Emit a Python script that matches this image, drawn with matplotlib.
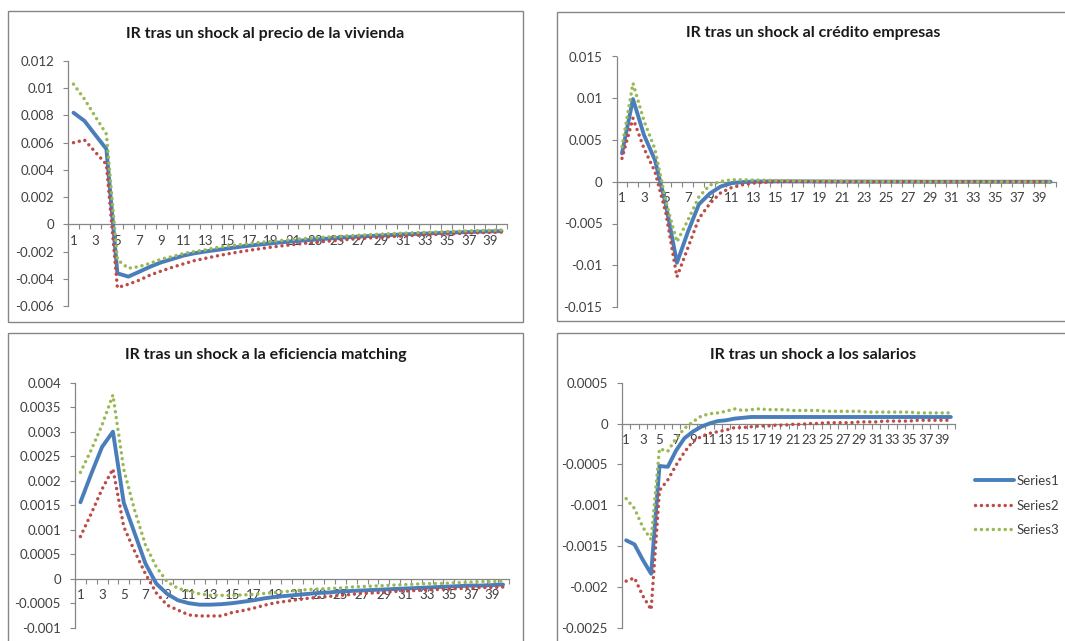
import matplotlib
matplotlib.use("Agg")
import matplotlib.pyplot as plt
from matplotlib.patches import Rectangle
from matplotlib.ticker import FuncFormatter, MultipleLocator
from matplotlib.lines import Line2D

plt.rcParams['font.family'] = ['Lato', 'DejaVu Sans']

periods = list(range(1, 41))
series_names = ['Series1', 'Series2', 'Series3']
colors = ['#4A7EBB', '#BE4B48', '#98B954']

# IR tras un shock al precio de la vivienda
viv_s1 = [0.0082, 0.0076, 0.00656, 0.00553, -0.0036, -0.00384, -0.00348, -0.00311, -0.00279, -0.00255,
          -0.0023, -0.00213, -0.002, -0.00189, -0.00178, -0.00167, -0.00157, -0.00148, -0.0014, -0.00132,
          -0.00125, -0.00118, -0.00112, -0.00106, -0.001, -0.00095, -0.0009, -0.00086, -0.00082, -0.00078,
          -0.00074, -0.00071, -0.00068, -0.00065, -0.00062, -0.00059, -0.00057, -0.00054, -0.00052, -0.0005]
viv_s2 = [0.006, 0.0062, 0.0053, 0.0044, -0.00465, -0.0044, -0.0041, -0.00372, -0.00343, -0.00316,
          -0.00291, -0.00267, -0.0025, -0.00233, -0.00218, -0.00204, -0.00191, -0.00179, -0.00168, -0.00158,
          -0.00149, -0.0014, -0.00132, -0.00125, -0.00118, -0.00111, -0.00105, -0.001, -0.00095, -0.0009,
          -0.00085, -0.00081, -0.00077, -0.00074, -0.0007, -0.00067, -0.00064, -0.00061, -0.00059, -0.00057]
viv_s3 = [0.0103, 0.0092, 0.0079, 0.00663, -0.0026, -0.00323, -0.0031, -0.00286, -0.00255, -0.00237,
          -0.00215, -0.002, -0.00188, -0.00171, -0.0016, -0.0015, -0.00141, -0.00133, -0.00125, -0.00118,
          -0.00111, -0.00105, -0.00099, -0.00094, -0.00089, -0.00084, -0.0008, -0.00076, -0.00072, -0.00068,
          -0.00065, -0.00062, -0.00059, -0.00056, -0.00053, -0.00051, -0.00048, -0.00046, -0.00044, -0.00042]

# IR tras un shock al crédito empresas
cre_s1 = [0.0034, 0.0099, 0.0056, 0.0026, -0.0028, -0.0097, -0.006, -0.0027, -0.0014, -0.00056,
          -0.00016, -0.00004, 0.00002, 0.00004, 0.00005, 0.00005, 0.00004, 0.00004, 0.00003, 0.00003,
          0.00002, 0.00002, 0.00002, 0.00001, 0.00001, 0.00001, 0.00001, 0.00001, 0.0, 0.0,
          0.0, 0.0, 0.0, 0.0, 0.0, 0.0, 0.0, 0.0, 0.0, 0.0]
cre_s2 = [0.0028, 0.0076, 0.004, 0.0012, -0.0038, -0.0114, -0.0079, -0.0044, -0.0026, -0.0013,
          -0.00068, -0.00036, -0.00016, -0.00006, 0.0, 0.00002, 0.00002, 0.00002, 0.00001, 0.00001,
          0.0, 0.0, 0.0, 0.0, 0.0, 0.0, 0.0, 0.0, 0.0, 0.0,
          0.0, 0.0, 0.0, 0.0, 0.0, 0.0, 0.0, 0.0, 0.0, 0.0]
cre_s3 = [0.0042, 0.0118, 0.0073, 0.0039, -0.0024, -0.0072, -0.0046, -0.0018, -0.0004, 0.00004,
          0.00024, 0.00024, 0.0002, 0.00018, 0.00015, 0.00013, 0.00011, 0.00009, 0.00008, 0.00007,
          0.00006, 0.00005, 0.00004, 0.00004, 0.00003, 0.00003, 0.00002, 0.00002, 0.00002, 0.00001,
          0.00001, 0.00001, 0.00001, 0.0, 0.0, 0.0, 0.0, 0.0, 0.0, 0.0]

# IR tras un shock a la eficiencia matching
mat_s1 = [0.00156, 0.00214, 0.00269, 0.003, 0.00155, 0.00093, 0.00031, -0.0001, -0.00031, -0.00044,
          -0.0005, -0.00053, -0.00053, -0.00052, -0.0005, -0.00047, -0.00044, -0.0004, -0.00037, -0.00035,
          -0.00033, -0.00031, -0.00029, -0.00028, -0.00026, -0.00025, -0.00024, -0.00023, -0.00022, -0.00021,
          -0.0002, -0.00019, -0.00018, -0.00017, -0.00016, -0.00015, -0.00014, -0.00014, -0.00013, -0.00012]
mat_s2 = [0.00086, 0.00133, 0.00183, 0.00224, 0.00106, 0.00056, 0.0001, -0.00029, -0.00054, -0.00064,
          -0.00074, -0.00076, -0.00076, -0.00076, -0.00069, -0.00065, -0.0006, -0.00054, -0.00049, -0.00046,
          -0.00043, -0.0004, -0.00038, -0.00036, -0.00034, -0.00032, -0.0003, -0.00029, -0.00028, -0.00026,
          -0.00025, -0.00024, -0.00023, -0.00022, -0.00021, -0.0002, -0.00019, -0.00018, -0.00018, -0.00017]
mat_s3 = [0.00217, 0.00263, 0.00314, 0.00375, 0.00223, 0.0014, 0.00069, 0.00024, -0.00006, -0.0002,
          -0.00025, -0.00031, -0.00034, -0.00034, -0.00034, -0.00033, -0.00032, -0.0003, -0.00028, -0.00026,
          -0.00024, -0.00022, -0.00021, -0.0002, -0.00019, -0.00017, -0.00016, -0.00015, -0.00014, -0.00013,
          -0.00012, -0.00011, -0.0001, -0.0001, -0.00009, -0.00008, -0.00007, -0.00006, -0.00006, -0.00005]

# IR tras un shock a los salarios
sal_s1 = [-0.00143, -0.00148, -0.00167, -0.00184, -0.00052, -0.00053, -0.00033, -0.00018, -0.0001, -0.00004,
          0.0, 0.00003, 0.00004, 0.00006, 0.00007, 0.00008, 0.00008, 0.00008, 0.00008, 0.00008,
          0.00008, 0.00008, 0.00008, 0.00008, 0.00008, 0.00008, 0.00008, 0.00008, 0.00008, 0.00008,
          0.00008, 0.00008, 0.00008, 0.00008, 0.00008, 0.00008, 0.00008, 0.00008, 0.00008, 0.00008]
sal_s2 = [-0.00193, -0.00189, -0.00211, -0.00228, -0.00082, -0.00069, -0.00051, -0.00035, -0.00022, -0.00016,
          -0.00012, -0.0001, -0.00008, -0.00005, -0.00005, -0.00004, -0.00003, -0.00003, -0.00002, -0.00002,
          -0.00001, -0.00001, 0.0, 0.0, 0.00001, 0.00001, 0.00001, 0.00001, 0.00002, 0.00002,
          0.00002, 0.00003, 0.00003, 0.00003, 0.00003, 0.00004, 0.00004, 0.00004, 0.00004, 0.00004]
sal_s3 = [-0.00092, -0.00104, -0.00127, -0.00142, -0.00031, -0.00034, -0.00018, -0.00006, 0.00002, 0.00009,
          0.00012, 0.00013, 0.00015, 0.00018, 0.00016, 0.00017, 0.00018, 0.00017, 0.00017, 0.00017,
          0.00016, 0.00016, 0.00016, 0.00016, 0.00015, 0.00015, 0.00015, 0.00015, 0.00015, 0.00014,
          0.00014, 0.00014, 0.00014, 0.00014, 0.00014, 0.00013, 0.00013, 0.00013, 0.00013, 0.00013]

W, H = 1065, 641
fig = plt.figure(figsize=(W / 100, H / 100), dpi=100)
fig.patch.set_facecolor('white')

axis_gray = '#868686'
text_gray = '#404040'
dot_style = (0, (0.01, 1.7))


def px_axes(l, r, t, b):
    return fig.add_axes([l / W, 1 - b / H, (r - l) / W, (b - t) / H])


def frame(l, r, t, b):
    fig.patches.append(Rectangle((l / W, 1 - b / H), (r - l) / W, (b - t) / H,
                                 transform=fig.transFigure, fill=False,
                                 edgecolor=axis_gray, linewidth=1.0))


def panel(box, title, title_xy, data, ylim, ystep):
    ax = px_axes(*box)
    for vals, c, name in zip(data, colors, series_names):
        if name == 'Series1':
            ax.plot(periods, vals, color=c, lw=2.8, solid_joinstyle='round',
                    solid_capstyle='round', zorder=3)
        else:
            ax.plot(periods, vals, color=c, lw=2.5, linestyle=dot_style,
                    dash_capstyle='round', zorder=3)
    ax.set_xlim(0.5, 40.5)
    ax.set_ylim(*ylim)
    ax.set_facecolor('none')
    for s in ['top', 'right']:
        ax.spines[s].set_visible(False)
    ax.spines['bottom'].set_position(('data', 0))
    for s in ['left', 'bottom']:
        ax.spines[s].set_color(axis_gray)
        ax.spines[s].set_linewidth(0.9)
    ax.set_xticks(periods[::2])
    ax.set_xticks([p - 0.5 for p in periods] + [40.5], minor=True)
    ax.tick_params(axis='x', which='major', length=0, pad=7.5, labelsize=9.5, labelcolor=text_gray)
    ax.tick_params(axis='x', which='minor', length=3.6, direction='out', color=axis_gray, width=0.8)
    ax.yaxis.set_major_locator(MultipleLocator(ystep))
    ax.yaxis.set_major_formatter(FuncFormatter(lambda v, p: '0' if abs(v) < 1e-12 else '%g' % v))
    ax.tick_params(axis='y', length=3.6, direction='out', color=axis_gray, width=0.8,
                   pad=6.5, labelsize=9.5, labelcolor=text_gray)
    fig.text(title_xy[0] / W, 1 - title_xy[1] / H, title, ha='center', va='center',
             fontsize=11.5, fontweight='bold', color='#1a1a1a')
    return ax


frame(8, 523, 11, 322)
frame(556.5, 1075, 11.5, 321)
frame(8, 523, 332.5, 650)
frame(556.5, 1075, 332.5, 650)

panel((68, 507, 61, 306), 'IR tras un shock al precio de la vivienda', (265.5, 34),
      [viv_s1, viv_s2, viv_s3], (-0.006, 0.012), 0.002)
panel((616.5, 1056, 56.5, 307), 'IR tras un shock al crédito empresas', (813, 33),
      [cre_s1, cre_s2, cre_s3], (-0.015, 0.015), 0.005)
panel((75, 508.5, 382.7, 627.7), 'IR tras un shock a la eficiencia matching', (265.5, 355),
      [mat_s1, mat_s2, mat_s3], (-0.001, 0.004), 0.0005)
panel((622, 955, 382.7, 627.7), 'IR tras un shock a los salarios', (813, 355),
      [sal_s1, sal_s2, sal_s3], (-0.0025, 0.0005), 0.0005)

handles = [Line2D([], [], color=colors[0], lw=2.8, solid_capstyle='round'),
           Line2D([], [], color=colors[1], lw=2.5, linestyle=dot_style, dash_capstyle='round'),
           Line2D([], [], color=colors[2], lw=2.5, linestyle=dot_style, dash_capstyle='round')]
fig.legend(handles, series_names, loc='center left', bbox_to_anchor=(968 / W, 1 - 505.5 / H),
           frameon=False, fontsize=9.5, handlelength=3.0, handletextpad=0.15,
           labelspacing=0.95, borderpad=0, labelcolor=text_gray)

fig.savefig('out.png', dpi=100, facecolor='white')
